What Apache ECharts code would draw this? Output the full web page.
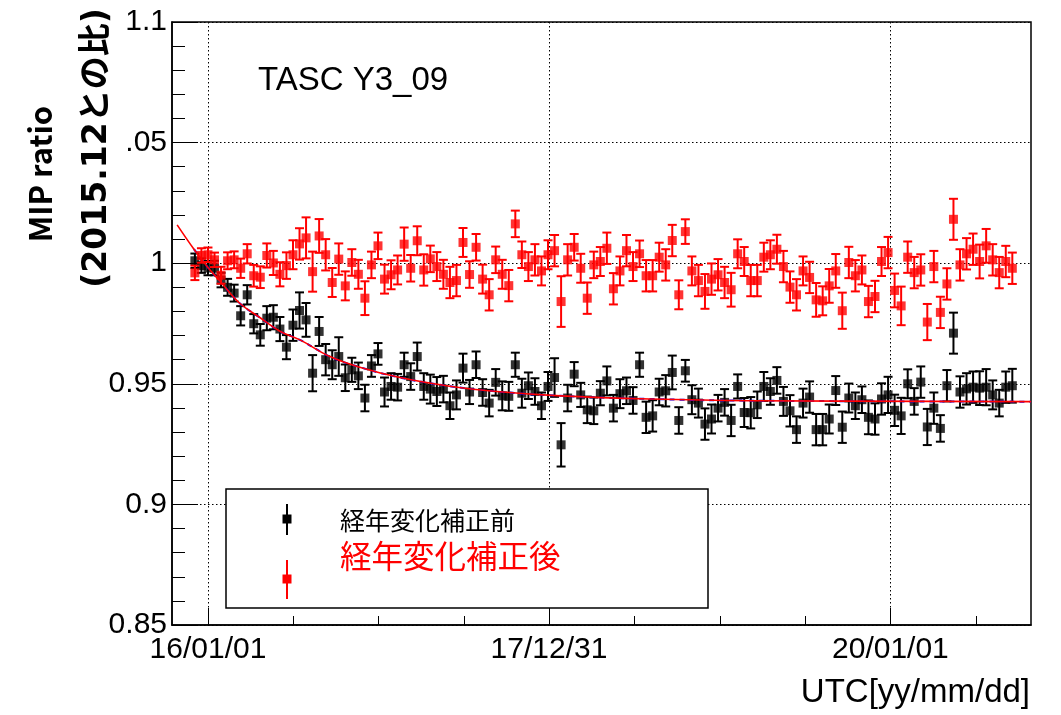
<!DOCTYPE html>
<html>
<head>
<meta charset="utf-8">
<script src="https://cdn.jsdelivr.net/npm/echarts@6/dist/echarts.min.js"></script>
<style>
  html, body { margin: 0; padding: 0; background: #fff; }
  #chart { width: 1061px; height: 715px; }
</style>
</head>
<body>
<div id="chart"></div>
<script>
// Sampling grid: one measurement every 14 days
const sampleStart = '2015-12-04';
const sampleStepDays = 14;

// MIP peak ratio before the ageing correction
const rawRatio = [
  1.001, 0.999, 0.998, 0.998, 0.993, 0.990, 0.9876, 0.9782, 0.9869, 0.9749,
  0.9703, 0.9772, 0.9776, 0.9727, 0.9652, 0.9743, 0.9804, 0.9765, 0.9544, 0.9717,
  0.960, 0.9579, 0.9613, 0.9525, 0.9558, 0.9533, 0.9441, 0.9574, 0.9624, 0.9466,
  0.9489, 0.9486, 0.9579, 0.9530, 0.9613, 0.9489, 0.9478, 0.9468, 0.9478, 0.9409,
  0.9454, 0.9565, 0.9466, 0.9579, 0.9464, 0.942, 0.9506, 0.945, 0.9448, 0.9579,
  0.9461, 0.9492, 0.9468, 0.9409, 0.9489, 0.9526, 0.9247, 0.9441, 0.954, 0.9454,
  0.9392, 0.9388, 0.9461, 0.9512, 0.9399, 0.9459, 0.9471, 0.9431, 0.9579, 0.9361,
  0.9367, 0.9466, 0.9471, 0.9547, 0.9348, 0.9554, 0.9434, 0.942, 0.9333, 0.9354,
  0.9399, 0.9423, 0.9348, 0.9489, 0.9381, 0.9380, 0.9413, 0.9489, 0.9468, 0.9514,
  0.9427, 0.9388, 0.931, 0.942, 0.9445, 0.931, 0.931, 0.9354, 0.9472, 0.932,
  0.9441, 0.9409, 0.9434, 0.9361, 0.9354, 0.9437, 0.9454, 0.939, 0.9367, 0.95,
  0.9427, 0.9507, 0.9321, 0.9399, 0.9315, 0.9492, 0.971, 0.9466, 0.9479, 0.9486,
  0.9482, 0.9486, 0.9454, 0.942, 0.9486, 0.9492
];
const rawErr = [
  0.003, 0.003, 0.003, 0.003, 0.003, 0.0035, 0.0035, 0.004, 0.004, 0.004,
  0.0045, 0.005, 0.005, 0.005, 0.005, 0.0065, 0.0075, 0.007, 0.0075, 0.006,
  0.0065, 0.006, 0.008, 0.0055, 0.005, 0.0055, 0.0055, 0.0045, 0.0045, 0.006,
  0.0055, 0.0055, 0.005, 0.0055, 0.0058, 0.0055, 0.006, 0.006, 0.0055, 0.0055,
  0.006, 0.006, 0.005, 0.0055, 0.0055, 0.0055, 0.0055, 0.006, 0.006, 0.005,
  0.006, 0.0055, 0.0055, 0.0055, 0.006, 0.008, 0.009, 0.0055, 0.005, 0.005,
  0.0055, 0.0055, 0.005, 0.006, 0.0055, 0.006, 0.0055, 0.0055, 0.005, 0.0065,
  0.0065, 0.0055, 0.0065, 0.007, 0.0055, 0.0045, 0.006, 0.006, 0.0065, 0.006,
  0.0055, 0.0055, 0.0065, 0.005, 0.006, 0.0065, 0.0055, 0.006, 0.0055, 0.0055,
  0.006, 0.0065, 0.0055, 0.006, 0.0065, 0.0065, 0.0065, 0.006, 0.006, 0.0065,
  0.006, 0.0055, 0.0055, 0.007, 0.0065, 0.0065, 0.0075, 0.0065, 0.0075, 0.006,
  0.0055, 0.0065, 0.0075, 0.0065, 0.0055, 0.0065, 0.0085, 0.0065, 0.0065, 0.0065,
  0.007, 0.0075, 0.006, 0.0055, 0.0065, 0.007
];

// MIP peak ratio after the ageing correction
const corrRatio = [
  0.996, 1.0032, 1.0035, 1.0014, 0.995, 1.001, 1.0014, 0.9979, 1.0039, 0.9948,
  0.9942, 1.0032, 1.0001, 0.9954, 0.999, 1.0035, 1.008, 1.0105, 0.9965, 1.0113,
  1.0035, 0.992, 1.0017, 0.9906, 1.0003, 0.9954, 0.9855, 0.9993, 1.0072, 0.9934,
  0.9952, 0.9972, 1.0079, 0.9979, 1.0093, 0.9972, 1.0018, 0.9986, 0.9954, 0.992,
  0.9928, 1.0086, 0.9953, 1.0066, 0.9934, 0.9869, 1.0014, 0.9954, 0.9907, 1.0163,
  1.0035, 0.9986, 1.0014, 0.9968, 1.0035, 1.0052, 0.9841, 1.0014, 1.0066, 0.9979,
  0.9855, 0.9993, 1.0007, 1.0062, 0.9894, 0.9968, 1.0052, 0.9986, 1.0039, 0.9948,
  0.9948, 1.0025, 0.9993, 1.0094, 0.9869, 1.0131, 0.9968, 0.9928, 0.9883, 0.9934,
  0.9952, 0.992, 0.989, 1.0039, 1.0007, 0.9928, 0.9928, 1.0025, 1.0035, 1.0058,
  0.9986, 0.9901, 0.9869, 0.9968, 0.9941, 0.9848, 0.9844, 0.9906, 0.9968, 0.9803,
  1.0003, 0.9948, 0.9972, 0.9841, 0.9862, 1.0007, 1.0044, 0.9887, 0.9823, 1.0025,
  0.9961, 0.9972, 0.9756, 0.9986, 0.9796, 0.9914, 1.0182, 0.9993, 1.0039, 1.0058,
  1.0007, 1.0072, 1.0014, 0.9961, 1.0007, 0.9979
];
const corrErr = [
  0.003, 0.003, 0.003, 0.003, 0.0035, 0.0035, 0.0035, 0.004, 0.004, 0.0045,
  0.0045, 0.005, 0.005, 0.005, 0.0055, 0.006, 0.0065, 0.0085, 0.0083, 0.007,
  0.0065, 0.006, 0.0065, 0.006, 0.0055, 0.006, 0.007, 0.0055, 0.0055, 0.006,
  0.006, 0.006, 0.0069, 0.0055, 0.006, 0.0065, 0.0055, 0.006, 0.006, 0.0065,
  0.0065, 0.006, 0.0055, 0.0055, 0.006, 0.0065, 0.0055, 0.006, 0.0065, 0.0055,
  0.0055, 0.006, 0.0065, 0.006, 0.006, 0.0065, 0.0105, 0.0065, 0.0055, 0.006,
  0.0065, 0.0055, 0.006, 0.0065, 0.0065, 0.006, 0.0065, 0.006, 0.0055, 0.0065,
  0.0065, 0.006, 0.0065, 0.0065, 0.006, 0.0051, 0.006, 0.0065, 0.0072, 0.0065,
  0.0065, 0.0065, 0.007, 0.006, 0.006, 0.0065, 0.0065, 0.006, 0.006, 0.006,
  0.0065, 0.0065, 0.0065, 0.006, 0.0065, 0.007, 0.006, 0.007, 0.007, 0.0075,
  0.0065, 0.0065, 0.006, 0.0065, 0.0065, 0.006, 0.0065, 0.007, 0.008, 0.0065,
  0.0065, 0.0065, 0.0075, 0.0065, 0.0065, 0.0065, 0.0085, 0.0065, 0.0065, 0.0065,
  0.007, 0.007, 0.0065, 0.0065, 0.0065, 0.0065
];

// Ageing fit of the uncorrected ratio, sampled along the time axis
const fitDates = [
  '2015-10-27', '2015-12-02', '2016-01-01', '2016-01-27', '2016-03-09', '2016-04-21',
  '2016-06-03', '2016-07-16', '2016-09-18', '2016-11-21', '2017-02-15', '2017-06-02',
  '2017-09-17', '2018-01-24', '2018-08-04', '2019-03-06', '2020-10-28'
];
const fitValues = [
  1.0159, 1.0058, 0.9982, 0.9925, 0.9834, 0.9775,
  0.9718, 0.9682, 0.9613, 0.9569, 0.9526, 0.949,
  0.9467, 0.945, 0.9437, 0.943, 0.9426
];

// Axis ticks and labels
const xRange = ['2015-10-16', '2020-10-28'];
const xMajorDates = ['2016-01-01', '2017-12-31', '2020-01-01'];
const xMajorLabels = ['16/01/01', '17/12/31', '20/01/01'];
const xMinorDates = ['2016-07-01', '2016-12-31', '2017-07-02', '2018-07-02',
                     '2019-01-01', '2019-07-02', '2020-07-02'];
const yTickLabels = ['0.85', '0.9', '0.95', '1', '.05', '1.1'];

const DAY = 86400000;
const ts = s => Date.parse(s + 'T00:00:00Z');
const sampleTimes = rawRatio.map((_, i) => ts(sampleStart) + i * sampleStepDays * DAY);

const rawPoints = rawRatio.map((v, i) => [sampleTimes[i], v, rawErr[i]]);
const corrPoints = corrRatio.map((v, i) => [sampleTimes[i], v, corrErr[i]]);
const fitPoints = fitDates.map((d, i) => [ts(d), fitValues[i]]);

const LATIN = '"Liberation Sans", Arial, Helvetica, sans-serif';
const CJK = '"Noto Sans CJK JP", "Noto Sans", sans-serif';
const RED = '#ff0000';
const MARK = 9;

function errorBars(color) {
  return function (params, api) {
    const x = api.value(0), y = api.value(1), e = api.value(2);
    const top = api.coord([x, y + e]);
    const bot = api.coord([x, y - e]);
    const w = 4.5;
    const style = { stroke: color, lineWidth: 2 };
    return {
      type: 'group',
      children: [
        { type: 'line', shape: { x1: top[0], y1: top[1], x2: bot[0], y2: bot[1] }, style },
        { type: 'line', shape: { x1: top[0] - w, y1: top[1], x2: top[0] + w, y2: top[1] }, style },
        { type: 'line', shape: { x1: bot[0] - w, y1: bot[1], x2: bot[0] + w, y2: bot[1] }, style }
      ]
    };
  };
}

const dotted = { color: '#000', width: 1, type: [1.5, 2.5] };
const majorTimes = xMajorDates.map(ts);
const fmtDate = v => {
  const i = majorTimes.findIndex(t => Math.abs(t - v) < DAY / 2);
  return i >= 0 ? xMajorLabels[i] : '';
};

const chart = echarts.init(document.getElementById('chart'), null, { renderer: 'canvas' });
chart.setOption({
  animation: false,
  backgroundColor: '#fff',
  grid: {
    left: 172, right: 30, top: 22, bottom: 90,
    show: true, borderColor: '#000', borderWidth: 1.5, backgroundColor: 'transparent'
  },
  xAxis: [
    {
      type: 'value', scale: true,
      min: ts(xRange[0]), max: ts(xRange[1]),
      axisLine: { show: true, onZero: false, lineStyle: { color: '#000', width: 1.5 } },
      axisTick: { show: true, inside: true, length: 17, customValues: majorTimes,
                  lineStyle: { color: '#000', width: 1 } },
      axisLabel: { show: true, customValues: majorTimes, formatter: fmtDate,
                   color: '#000', fontFamily: LATIN, fontSize: 30, margin: 10,
                   showMinLabel: true, showMaxLabel: true },
      splitLine: { show: true, lineStyle: dotted }
    },
    {
      type: 'value', scale: true,
      gridIndex: 0, position: 'bottom',
      min: ts(xRange[0]), max: ts(xRange[1]),
      axisLine: { show: false, onZero: false },
      axisTick: { show: true, inside: true, length: 9, customValues: xMinorDates.map(ts),
                  lineStyle: { color: '#000', width: 1 } },
      axisLabel: { show: false },
      splitLine: { show: false }
    }
  ],
  yAxis: {
    type: 'value',
    min: 0.85, max: 1.1, interval: 0.05,
    axisLine: { show: true, lineStyle: { color: '#000', width: 1.5 } },
    axisTick: { show: true, inside: true, length: 26, lineStyle: { color: '#000', width: 1 } },
    minorTick: { show: true, splitNumber: 5, length: 13, lineStyle: { color: '#000', width: 1 } },
    axisLabel: {
      color: '#000', fontFamily: LATIN, fontSize: 30, margin: 5,
      formatter: v => yTickLabels[Math.round((v - 0.85) / 0.05)]
    },
    splitLine: { show: true, lineStyle: dotted }
  },
  series: [
    {
      name: 'raw-err', type: 'custom', renderItem: errorBars('#000'),
      data: rawPoints, encode: { x: 0, y: 1 }, clip: true, z: 2, silent: true
    },
    {
      name: '経年変化補正前', type: 'scatter', symbol: 'rect', symbolSize: MARK,
      itemStyle: { color: '#000' }, data: rawPoints.map(p => [p[0], p[1]]), z: 3, silent: true
    },
    {
      name: 'fit-blue', type: 'line', data: fitPoints.slice(1), smooth: 0.4, showSymbol: false,
      lineStyle: { color: '#0000ff', width: 2, type: [5, 5] }, z: 4, silent: true
    },
    {
      name: 'fit-red', type: 'line', data: fitPoints, smooth: 0.4, showSymbol: false,
      lineStyle: { color: RED, width: 1.6 }, z: 5, silent: true
    },
    {
      name: 'corr-err', type: 'custom', renderItem: errorBars(RED),
      data: corrPoints, encode: { x: 0, y: 1 }, clip: true, z: 6, silent: true
    },
    {
      name: '経年変化補正後', type: 'scatter', symbol: 'rect', symbolSize: MARK,
      itemStyle: { color: RED }, data: corrPoints.map(p => [p[0], p[1]]), z: 7, silent: true
    }
  ],
  graphic: [
    { type: 'text', left: 258, top: 64,
      style: { text: 'TASC Y3_09', font: '33px ' + LATIN, fill: '#000' } },
    { type: 'text', x: 1030, y: 693,
      style: { text: 'UTC[yy/mm/dd]', font: '33px ' + LATIN, fill: '#000',
               align: 'right', verticalAlign: 'middle' } },
    { type: 'text', x: 40, y: 174, rotation: Math.PI / 2,
      style: { text: 'MIP ratio', font: 'bold 31px ' + CJK, fill: '#000',
               align: 'center', verticalAlign: 'middle' } },
    { type: 'text', x: 97, y: 148, rotation: Math.PI / 2,
      style: { text: '(2015.12との比)', font: 'bold 33px "DejaVu Sans", ' + CJK, fill: '#000',
               align: 'center', verticalAlign: 'middle' } },
    // legend box
    { type: 'rect', shape: { x: 226, y: 489, width: 482, height: 119 },
      style: { fill: '#fff', stroke: '#000', lineWidth: 1.5 }, z: 50 },
    { type: 'line', shape: { x1: 287, y1: 504, x2: 287, y2: 535 },
      style: { stroke: '#000', lineWidth: 2 }, z: 51 },
    { type: 'rect', shape: { x: 282.5, y: 514.5, width: MARK, height: MARK },
      style: { fill: '#000' }, z: 52 },
    { type: 'line', shape: { x1: 287, y1: 560, x2: 287, y2: 599 },
      style: { stroke: RED, lineWidth: 2 }, z: 51 },
    { type: 'rect', shape: { x: 282.5, y: 574.5, width: MARK, height: MARK },
      style: { fill: RED }, z: 52 },
    { type: 'text', x: 340, y: 520, z: 52,
      style: { text: '経年変化補正前', font: '25px ' + CJK, fill: '#000', verticalAlign: 'middle' } },
    { type: 'text', x: 340, y: 556, z: 52,
      style: { text: '経年変化補正後', font: '31.5px ' + CJK, fill: RED, verticalAlign: 'middle' } }
  ]
});
</script>
</body>
</html>
